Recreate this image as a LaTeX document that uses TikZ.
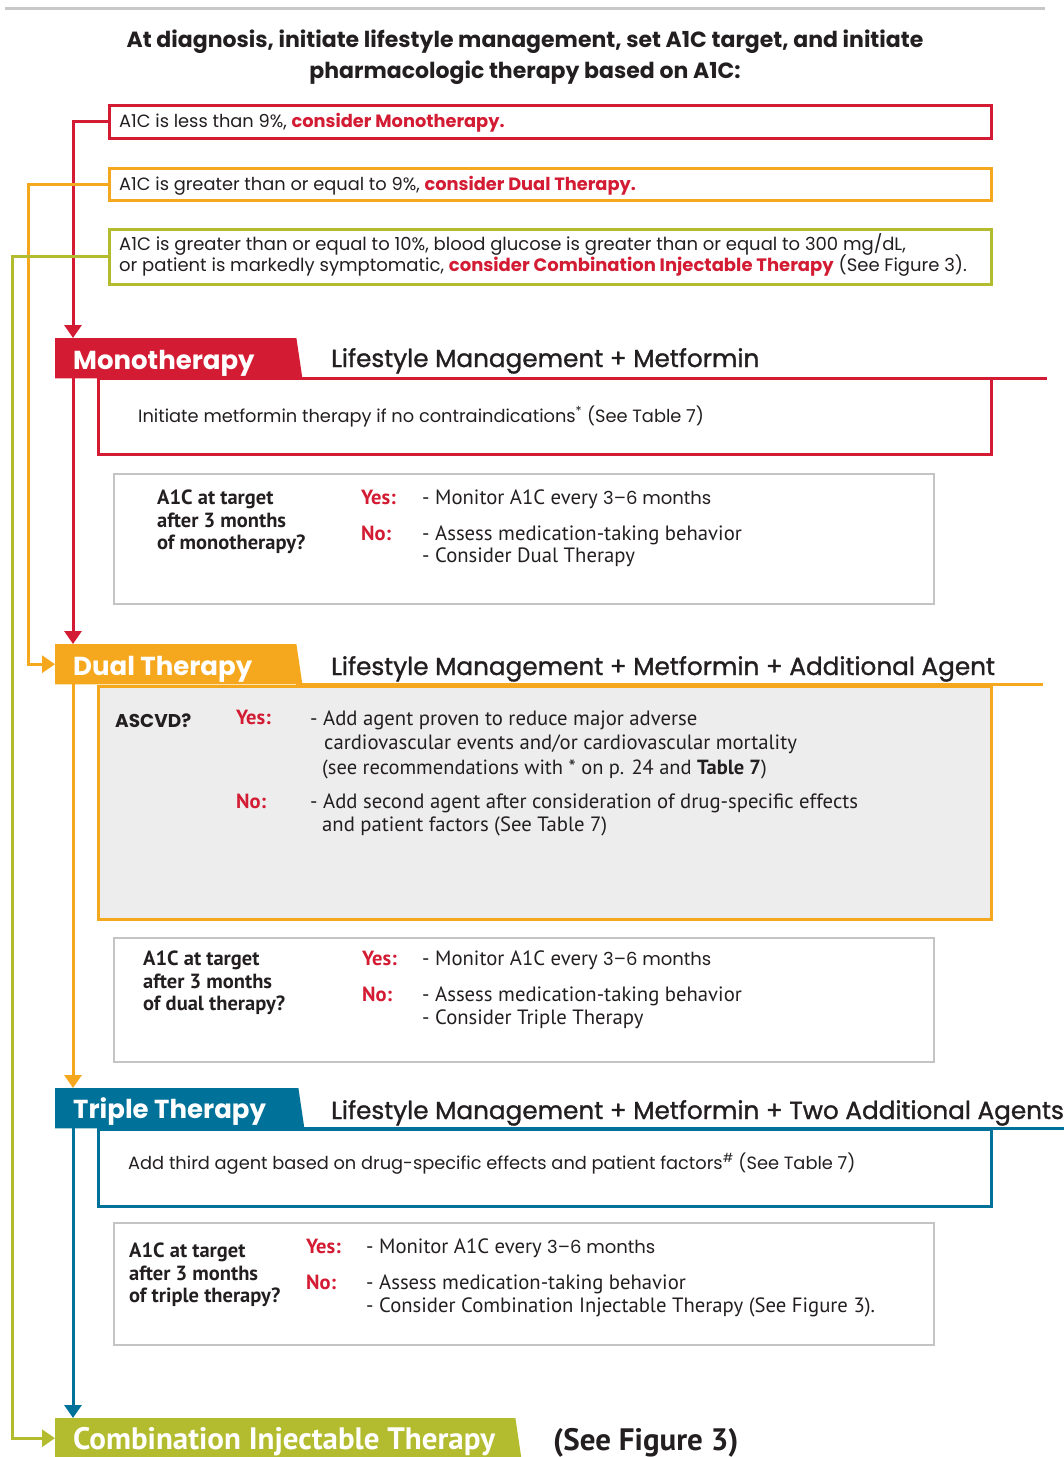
\documentclass[tikz,border=0pt]{standalone}
\usepackage{fontspec}
\setmainfont{Poppins}
\newfontfamily\narrowfont{PT Sans}
\newfontfamily\medfont[FakeBold=1.2]{Poppins}
\usetikzlibrary{arrows.meta}
\definecolor{cred}{HTML}{D31C33}
\definecolor{corange}{HTML}{F5A81E}
\definecolor{cgreen}{HTML}{B3BC2E}
\definecolor{cblue}{HTML}{00729A}
\definecolor{rulegray}{HTML}{C8C8C8}
\definecolor{boxgray}{HTML}{C4C4C4}
\definecolor{panelgray}{HTML}{EDEDED}
\definecolor{ink}{HTML}{231F20}
\begin{document}
\begin{tikzpicture}[x=1pt,y=-1pt,
    txt/.style={anchor=base west, inner sep=0, text=ink},
    body/.style={txt, font=\fontsize{17.8}{21}\selectfont},
    cond/.style={txt, font=\narrowfont\fontsize{20.7}{24}\selectfont},
    condb/.style={txt, font=\narrowfont\bfseries\fontsize{20.5}{24}\selectfont},
    yesno/.style={condb, text=cred},
    tabtxt/.style={txt, text=white, font=\bfseries\fontsize{26}{30}\selectfont},
    sectitle/.style={txt, font=\medfont\fontsize{24.7}{28}\selectfont},
    tab/.style={anchor=north west, inner sep=0, minimum height=40, minimum width=241},
    optbox/.style={anchor=north west, inner sep=0, line width=2.5, fill=white},
    graybox/.style={anchor=north west, inner sep=0, draw=boxgray, line width=2, minimum width=820},
    link/.style={line width=3, -{Triangle[width=17pt,length=13pt]}}]
    \useasboundingbox (0,0) rectangle (1064,1457);

    % top rule and heading
    \draw[rulegray, line width=3] (5,8) -- (1045,8);
    \node[txt, anchor=base, font=\bfseries\fontsize{22}{26}\selectfont] (head1) at (525,47)
        {At diagnosis, initiate lifestyle management, set A1C target, and initiate};
    \node[txt, anchor=base, font=\bfseries\fontsize{22}{26}\selectfont] (head2) at (525,78)
        {pharmacologic therapy based on A1C:};

    % A1C choices
    \node[optbox, draw=cred, minimum width=882, minimum height=33] (lt9) at (108,104) {};
    \node[body] (lt9t) at (119,127) {A1C is less than 9\%, {\color{cred}\bfseries consider Monotherapy.}};
    \node[optbox, draw=corange, minimum width=882, minimum height=32] (ge9) at (108,167) {};
    \node[body] (ge9t) at (119,190) {A1C is greater than or equal to 9\%, {\color{cred}\bfseries consider Dual Therapy.}};
    \node[optbox, draw=cgreen, minimum width=882, minimum height=55] (ge10) at (108,228) {};
    \node[body, font=\fontsize{18}{21}\selectfont] (ge10a) at (119,250) {A1C is greater than or equal to 10\%, blood glucose is greater than or equal to 300 mg/dL,};
    \node[body, font=\fontsize{18}{21}\selectfont] (ge10b) at (119,271) {or patient is markedly symptomatic, {\color{cred}\bfseries consider Combination Injectable Therapy} (See Figure 3).};

    % MONOTHERAPY
    \node[optbox, draw=cred, minimum width=893, minimum height=76] (monobox) at (97,377) {};
    \node[tab] (mono) at (55,338) {};
    \fill[cred] (mono.north west) -- (mono.north east) -- ([xshift=6]mono.south east) -- (mono.south west) -- cycle;
    \draw[cred, line width=2.5] (mono.south east) -- ++(751,0);
    \node[tabtxt] (monot) at (73,369) {Monotherapy};
    \node[sectitle] (monohd) at (331,367) {Lifestyle Management + Metformin};
    \node[body] (monotx) at (138,422) {Initiate metformin therapy if no contraindications\textsuperscript{*} (See Table 7)};

    \node[graybox, minimum height=130] (monochk) at (113,473) {};
    \node[condb] (mq1) at (157,504) {A1C at target};
    \node[condb] (mq2) at (157,527) {after 3 months};
    \node[condb] (mq3) at (157,549) {of monotherapy?};
    \node[yesno] (myes) at (361,504) {Yes:};
    \node[cond] (myes1) at (422,504) {- Monitor A1C every {\fontsize{18}{21}\rmfamily 3–6 months}};
    \node[yesno] (mno) at (361,540) {No:};
    \node[cond] (mno1) at (422,540) {- Assess medication-taking behavior};
    \node[cond] (mno2) at (422,562) {- Consider Dual Therapy};

    % DUAL THERAPY
    \node[optbox, draw=corange, fill=panelgray, minimum width=893, minimum height=233] (dualbox) at (97,685) {};
    \node[tab] (dual) at (55,644) {};
    \fill[corange] (dual.north west) -- (dual.north east) -- ([xshift=6]dual.south east) -- (dual.south west) -- cycle;
    \draw[corange, line width=2.5] (dual.south east) -- ++(747,0);
    \node[tabtxt] (dualt) at (73,675) {Dual Therapy};
    \node[sectitle] (dualhd) at (331,675) {Lifestyle Management + Metformin + Additional Agent};
    \node[txt, font=\bfseries\fontsize{18.5}{22}\selectfont] (ascvd) at (115,727) {ASCVD?};
    \node[yesno] (dyes) at (236,724) {Yes:};
    \node[cond] (dyes1) at (310,725) {- Add agent proven to reduce major adverse};
    \node[cond] (dyes2) at (324,749) {cardiovascular events and/or cardiovascular mortality};
    \node[cond, font=\narrowfont\fontsize{20.5}{24}\selectfont] (dyes3) at (322,774)
        {(see recommendations with * on p. 24 and \textbf{Table 7})};
    \node[yesno] (dno) at (236,808) {No:};
    \node[cond] (dno1) at (310,808) {- Add second agent after consideration of drug-specific effects};
    \node[cond] (dno2) at (322,831) {and patient factors (See Table 7)};

    \node[graybox, minimum height=124] (dualchk) at (113,937) {};
    \node[condb] (dq1) at (143,965) {A1C at target};
    \node[condb] (dq2) at (143,988) {after 3 months};
    \node[condb] (dq3) at (143,1010) {of dual therapy?};
    \node[yesno] (d2yes) at (362,965) {Yes:};
    \node[cond] (d2yes1) at (422,965) {- Monitor A1C every {\fontsize{18}{21}\rmfamily 3–6 months}};
    \node[yesno] (d2no) at (362,1001) {No:};
    \node[cond] (d2no1) at (422,1001) {- Assess medication-taking behavior};
    \node[cond] (d2no2) at (422,1024) {- Consider Triple Therapy};

    % TRIPLE THERAPY
    \node[optbox, draw=cblue, minimum width=893, minimum height=77] (tripbox) at (97,1128) {};
    \node[tab, minimum width=243] (trip) at (55,1088) {};
    \fill[cblue] (trip.north west) -- (trip.north east) -- ([xshift=6]trip.south east) -- (trip.south west) -- cycle;
    \draw[cblue, line width=2.5] (trip.south east) -- ++(770,0);
    \node[tabtxt] (tript) at (73,1118) {Triple Therapy};
    \node[sectitle] (triphd) at (331,1119) {Lifestyle Management + Metformin + Two Additional Agents};
    \node[body] (triptx) at (128,1169) {Add third agent based on drug-specific effects and patient factors\textsuperscript{\#} (See Table 7)};

    \node[graybox, minimum height=122] (tripchk) at (113,1222) {};
    \node[condb] (tq1) at (129,1257) {A1C at target};
    \node[condb] (tq2) at (129,1280) {after 3 months};
    \node[condb] (tq3) at (129,1302) {of triple therapy?};
    \node[yesno] (tyes) at (306,1253) {Yes:};
    \node[cond] (tyes1) at (366,1253) {- Monitor A1C every {\fontsize{18}{21}\rmfamily 3–6 months}};
    \node[yesno] (tno) at (306,1289) {No:};
    \node[cond] (tno1) at (366,1289) {- Assess medication-taking behavior};
    \node[cond] (tno2) at (366,1312) {- Consider Combination Injectable Therapy (See Figure 3).};

    % COMBINATION INJECTABLE THERAPY
    \node[tab, minimum width=460] (combo) at (55,1418) {};
    \fill[cgreen] (combo.north west) -- (combo.north east) -- ([xshift=6]combo.south east) -- (combo.south west) -- cycle;
    \node[tabtxt, font=\narrowfont\bfseries\fontsize{31}{34}\selectfont] (combot) at (73,1449) {Combination Injectable Therapy};
    \node[txt, font=\narrowfont\bfseries\fontsize{31}{34}\selectfont] (combofig) at (553,1450) {(See Figure 3)};

    % connectors
    \draw[link, cred] (lt9.west) -| ([xshift=18]mono.north west);
    \draw[link, cred] ([xshift=18]mono.south west) -- ([xshift=18]dual.north west);
    \draw[link, corange] (ge9.west) -- ++(-80,0) |- (dual.west);
    \draw[link, corange] ([xshift=18]dual.south west) -- ([xshift=18]trip.north west);
    \draw[link, cgreen] (ge10.west) -- ++(-96,0) |- (combo.west);
    \draw[link, cblue] ([xshift=18]trip.south west) -- ([xshift=18]combo.north west);
\end{tikzpicture}
\end{document}
